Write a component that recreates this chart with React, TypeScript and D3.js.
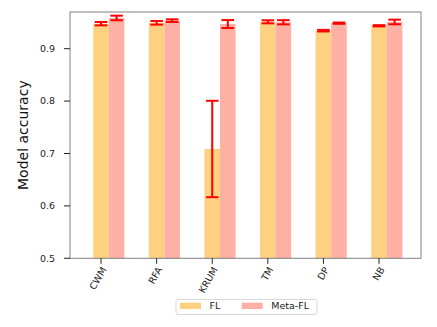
import React, { useEffect, useRef } from "react";
import * as d3 from "d3";

const categories = ["CWM", "RFA", "KRUM", "TM", "DP", "NB"];
const flValues = [0.9477, 0.9494, 0.7086, 0.9513, 0.9344, 0.9437];
const flErrors = [0.0032, 0.0035, 0.092, 0.0029, 0.0015, 0.0012];
const metaValues = [0.9586, 0.9535, 0.947, 0.9504, 0.9487, 0.951];
const metaErrors = [0.0044, 0.0025, 0.0076, 0.004, 0.0012, 0.0044];
const yTicks = [0.5, 0.6, 0.7, 0.8, 0.9];
const seriesNames = ["FL", "Meta-FL"];

const W = 437;
const H = 327;
const FL_COLOR = "#fdd17f";
const META_COLOR = "#ffb0a5";

const App = () => {
  const ref = useRef<SVGSVGElement>(null);

  useEffect(() => {
    const svg = d3.select(ref.current);
    svg.selectAll("*").remove();

    const left = 70, right = 421, top = 12, bottom = 258.3;
    const barW = 0.28;

    const x = d3.scaleLinear().domain([-0.558, 5.755]).range([left, right]);
    const y = d3.scaleLinear().domain([0.5, 0.97]).range([bottom, top]);

    const series = [
      { vals: flValues, errs: flErrors, color: FL_COLOR, off: 0 },
      { vals: metaValues, errs: metaErrors, color: META_COLOR, off: barW },
    ];

    // bars
    series.forEach(s => {
      svg.append("g")
        .selectAll("rect")
        .data(s.vals)
        .enter()
        .append("rect")
        .attr("x", (_, i) => x(i + s.off - barW / 2))
        .attr("width", x(barW) - x(0))
        .attr("y", d => y(d))
        .attr("height", d => y(0.5) - y(d))
        .attr("fill", s.color);
    });

    // error bars
    series.forEach(s => {
      const g = svg.append("g").attr("stroke", "#ff0000").attr("stroke-width", 2);
      s.vals.forEach((v, i) => {
        const cx = x(i + s.off);
        const lo = y(v - s.errs[i]);
        const hi = y(v + s.errs[i]);
        g.append("line").attr("x1", cx).attr("x2", cx).attr("y1", lo).attr("y2", hi);
        [lo, hi].forEach(yy => {
          g.append("line").attr("x1", cx - 6.3).attr("x2", cx + 6.3).attr("y1", yy).attr("y2", yy);
        });
      });
    });

    // spines
    svg.append("rect")
      .attr("x", left).attr("y", top)
      .attr("width", right - left).attr("height", bottom - top)
      .attr("fill", "none").attr("stroke", "#808080").attr("stroke-width", 1);

    // y axis ticks
    const yg = svg.append("g");
    yTicks.forEach(t => {
      yg.append("line")
        .attr("x1", left - 6).attr("x2", left)
        .attr("y1", y(t)).attr("y2", y(t))
        .attr("stroke", "#222").attr("stroke-width", 1);
      yg.append("text")
        .attr("x", left - 15).attr("y", y(t))
        .attr("dy", "0.35em")
        .attr("text-anchor", "end")
        .attr("font-size", 9.5)
        .attr("fill", "#222")
        .text(t.toFixed(1));
    });

    // x ticks
    const xg = svg.append("g");
    categories.forEach((c, i) => {
      const cx = x(i);
      xg.append("line")
        .attr("x1", cx).attr("x2", cx)
        .attr("y1", bottom).attr("y2", bottom + 5.5)
        .attr("stroke", "#222").attr("stroke-width", 1);
      xg.append("text")
        .attr("transform", `translate(${cx + 3},${bottom + 9.5}) rotate(-60)`)
        .attr("text-anchor", "end")
        .attr("dy", "0.35em")
        .attr("font-size", 9.5)
        .attr("fill", "#222")
        .text(c);
    });

    // y label
    svg.append("text")
      .attr("transform", `translate(28,${(top + bottom) / 2}) rotate(-90)`)
      .attr("text-anchor", "middle")
      .attr("font-size", 14)
      .attr("fill", "#111")
      .text("Model accuracy");

    // legend
    const lg = svg.append("g");
    lg.append("rect")
      .attr("x", 176).attr("y", 299.5).attr("width", 141).attr("height", 15)
      .attr("rx", 2).attr("fill", "#fff").attr("stroke", "#d8d8d8").attr("stroke-width", 1);
    const lx = [180, 241.7];
    [FL_COLOR, META_COLOR].forEach((col, i) => {
      lg.append("rect")
        .attr("x", lx[i]).attr("y", 302.7).attr("width", 21).attr("height", 6.3)
        .attr("fill", col);
      lg.append("text")
        .attr("x", lx[i] + 29.5).attr("y", 306)
        .attr("dy", "0.35em")
        .attr("font-size", 9.5)
        .attr("fill", "#222")
        .text(seriesNames[i]);
    });
  }, []);

  return (
    <svg
      ref={ref}
      width={W}
      height={H}
      style={{ position: "absolute", left: 0, top: 0, background: "#fff", fontFamily: "DejaVu Sans" }}
    />
  );
};

export default App;
